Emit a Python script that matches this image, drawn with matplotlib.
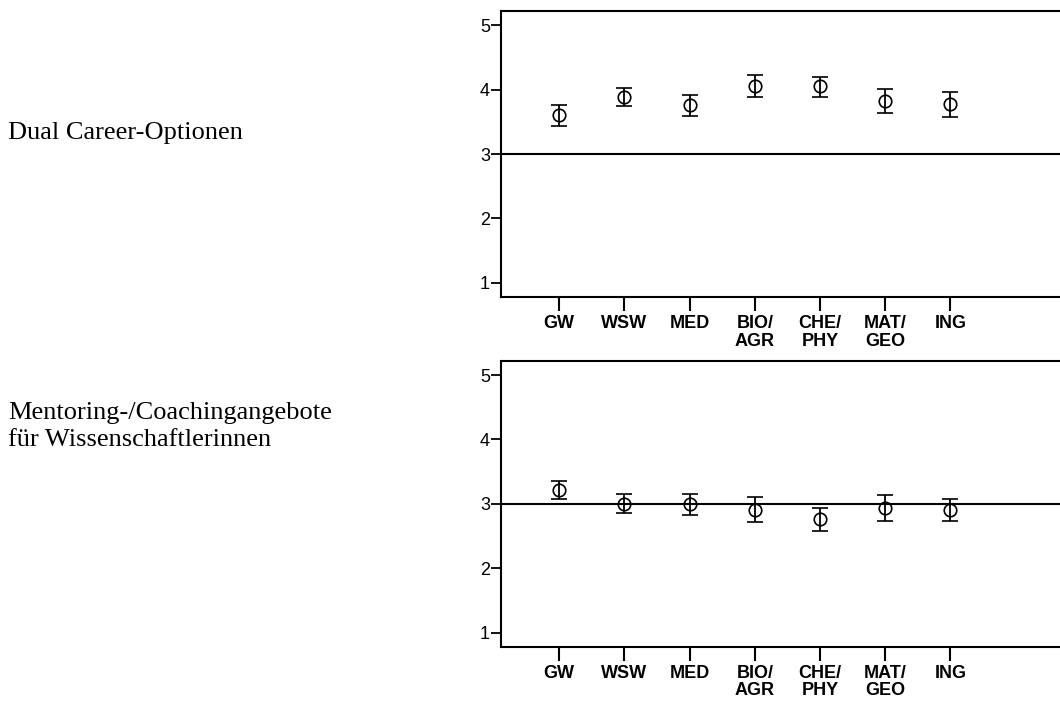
import numpy as np
from matplotlib import pyplot as plt

categories = ["GW", "WSW", "MED", "BIO/\nAGR", "CHE/\nPHY", "MAT/\nGEO", "ING"]

# Dual Career-Optionen: mean and 95% CI bounds
dual_mean = [3.61, 3.89, 3.76, 4.06, 4.06, 3.83, 3.78]
dual_low = [3.44, 3.75, 3.59, 3.88, 3.89, 3.63, 3.58]
dual_high = [3.76, 4.02, 3.92, 4.22, 4.20, 4.01, 3.97]

# Mentoring-/Coachingangebote
ment_mean = [3.22, 3.00, 2.99, 2.91, 2.77, 2.94, 2.90]
ment_low = [3.08, 2.86, 2.82, 2.72, 2.58, 2.73, 2.73]
ment_high = [3.36, 3.155, 3.16, 3.10, 2.94, 3.14, 3.08]

row_labels = ["Dual Career-Optionen", "Mentoring-/Coachingangebote\nfür Wissenschaftlerinnen"]
ref_value = 3

fig = plt.figure(figsize=(10.6, 7.02), dpi=100)

panels = [
    (dual_mean, dual_low, dual_high, [0.4726, 0.5769, 0.5274, 0.4074]),
    (ment_mean, ment_low, ment_high, [0.4726, 0.0788, 0.5274, 0.4070]),
]

x = np.arange(len(categories))
for mean, low, high, rect in panels:
    ax = fig.add_axes(rect)
    mean = np.array(mean)
    yerr = [mean - np.array(low), np.array(high) - mean]
    ax.errorbar(x, mean, yerr=yerr, fmt="o", color="black", mfc="none", mec="black",
                ms=9, mew=1.2, elinewidth=1.3, capsize=6, capthick=1.4, zorder=3)
    ax.axhline(ref_value, color="black", lw=1.5, zorder=2)

    # the original is cropped at the right, so the frame runs off the edge
    ax.set_xlim(-0.894, 7.68)
    ax.set_ylim(0.78, 5.22)
    ax.set_yticks([1, 2, 3, 4, 5])
    ax.set_xticks(x)
    ax.set_xticklabels(categories, fontweight="bold", fontsize=13, family="Liberation Sans",
                       linespacing=1.05)
    for lab in ax.get_yticklabels():
        lab.set_fontfamily("Liberation Sans")
        lab.set_fontsize(13)
    ax.tick_params(axis="y", length=7, width=1.3, pad=1, direction="out")
    ax.tick_params(axis="x", length=10, width=1.5, pad=3, direction="out")
    ax.spines["right"].set_visible(False)
    for s in ["left", "top", "bottom"]:
        ax.spines[s].set_linewidth(1.5)

fig.text(0.0075, 1 - 139 / 702, row_labels[0], family="Liberation Serif", fontsize=19,
         va="baseline", ha="left")
fig.text(0.0075, 1 - 446 / 702, row_labels[1], family="Liberation Serif", fontsize=19,
         va="baseline", ha="left", linespacing=1.3)

fig.savefig("out.png", dpi=100)
